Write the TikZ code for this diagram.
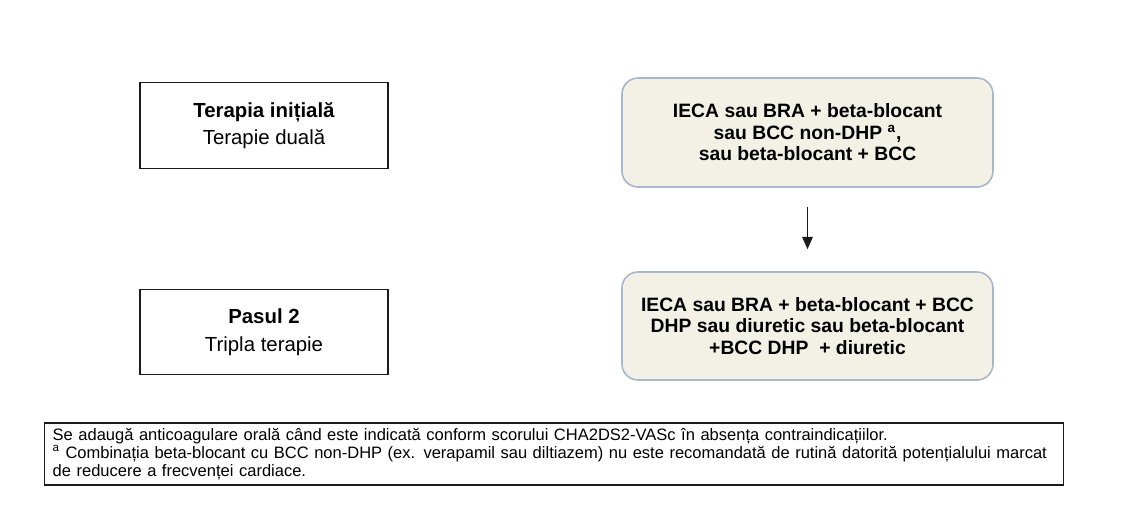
\documentclass[tikz,border=0pt]{standalone}
\usepackage{fontspec}
\setmainfont{Liberation Sans}
\usepackage{xcolor}
\definecolor{step-fill}{HTML}{F3F0E6}
\definecolor{step-edge}{HTML}{A9B7CC}
\definecolor{jet}{HTML}{1A1A1A}
\usetikzlibrary{arrows.meta}
\newcommand{\notefont}{\fontsize{9.4}{10.3}\selectfont\hyphenpenalty10000\relax}

\begin{document}
\begin{tikzpicture}[
    phasebox/.style={draw=jet, line width=0.8pt, fill=white, minimum width=4.96cm,
      minimum height=1.71cm, align=center, font=\fontsize{11.6}{15.8}\selectfont},
    drugbox/.style={draw=step-edge, line width=0.9pt, fill=step-fill, rounded corners=0.32cm,
      minimum width=7.42cm, minimum height=2.18cm, align=center,
      font=\fontsize{11}{12.2}\selectfont\bfseries},
    notebox/.style={draw=jet, line width=0.8pt, fill=white, text width=20.06cm,
      minimum height=1.14cm, align=left, inner xsep=0.16cm, inner ysep=0.1cm,
      font=\notefont}]
    \useasboundingbox (0, 0) rectangle (22.68, -10.12);
    \node[phasebox] (init) at (5.28, -2.51)
      {\textbf{Terapia inițială}\\Terapie duală};
    \node[phasebox] (pas2) at (5.28, -6.64)
      {\textbf{Pasul 2}\\Tripla terapie};
    \node[drugbox] (dual) at (16.15, -2.65)
      {IECA sau BRA + beta-blocant\\sau BCC non-DHP \textsuperscript{a},\\sau beta-blocant + BCC};
    \node[drugbox, minimum height=2.16cm] (tripla) at (16.15, -6.52)
      {IECA sau BRA + beta-blocant + BCC\\DHP sau diuretic sau beta-blocant\\+BCC DHP \ + diuretic};
    \draw[-{Triangle[width=6pt, length=7pt]}, line width=0.7pt, color=jet,
      shorten <=0.38cm, shorten >=0.44cm] (dual.south) -- (tripla.north);
    \node[notebox, anchor=west] (nota) at (0.88, -9.08)
      {Se adaugă anticoagulare orală când este indicată conform scorului CHA2DS2-VASc în absența contraindicațiilor.\\
      \textsuperscript{a} Combinația beta-blocant cu BCC non-DHP (ex. verapamil sau diltiazem) nu este recomandată de rutină datorită potențialului marcat\\
      de reducere a frecvenței cardiace.};
  \end{tikzpicture}
\end{document}
